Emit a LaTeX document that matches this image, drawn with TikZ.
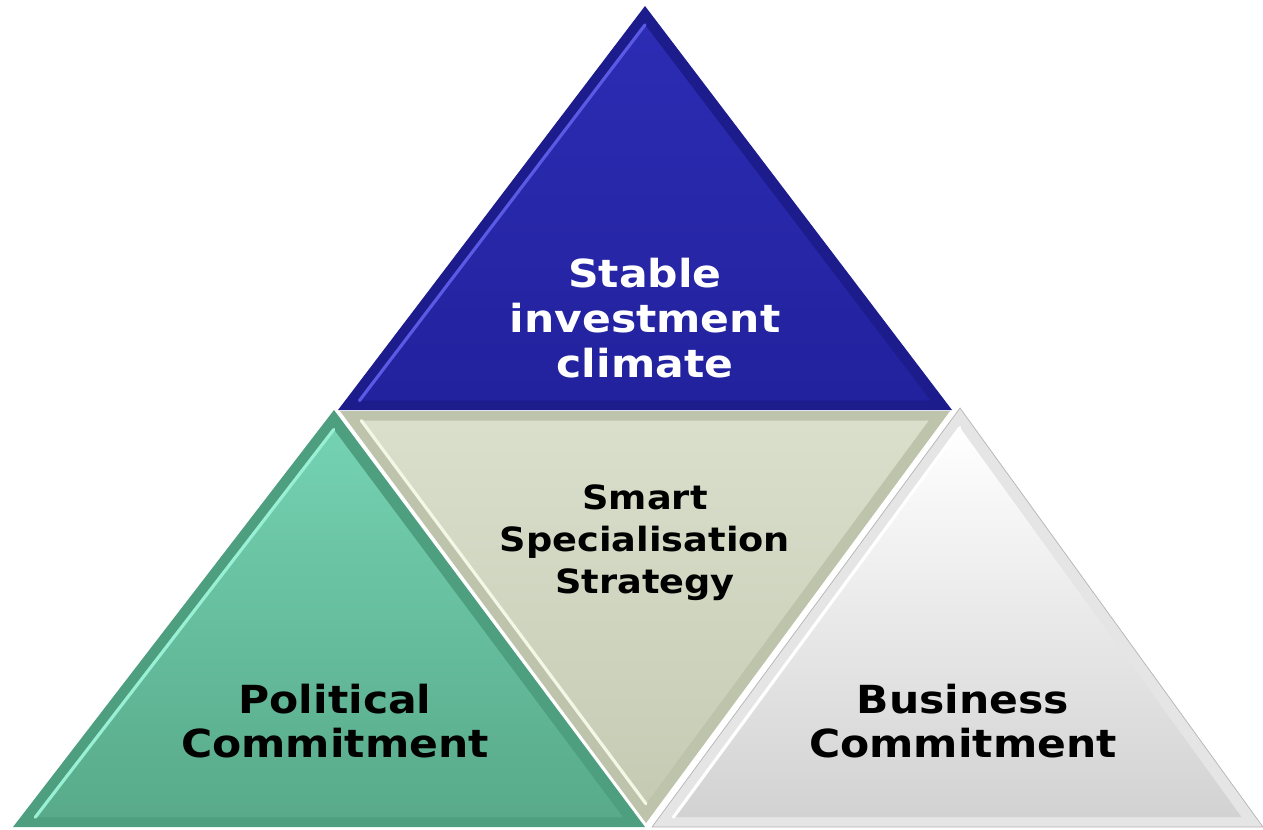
\documentclass[tikz,border=0pt]{standalone}
\usepackage{fontspec}
\setmainfont[FakeStretch=1.1]{DejaVu Sans}
\usetikzlibrary{calc}
\definecolor{blueedge}{HTML}{1C1C8C}
\definecolor{bluetop}{HTML}{2C2CB4}
\definecolor{bluebot}{HTML}{22229E}
\definecolor{bluehi}{HTML}{5A5AE4}
\definecolor{greenedge}{HTML}{4E9E80}
\definecolor{greentop}{HTML}{74D2B2}
\definecolor{greenbot}{HTML}{58AA8A}
\definecolor{greenhi}{HTML}{9AF0D4}
\definecolor{sageedge}{HTML}{BEC4AB}
\definecolor{sagetop}{HTML}{DADFCC}
\definecolor{sagebot}{HTML}{C5CBB3}
\definecolor{sagehi}{HTML}{F4F7E6}
\definecolor{greyedge}{HTML}{B4B4B4}
\definecolor{greybot}{HTML}{D2D2D2}
\tikzset{
  label text/.style={font=\bfseries\fontsize{22}{25.5}\selectfont, align=center, inner sep=0pt},
  small text/.style={font=\bfseries\fontsize{19}{24}\selectfont, align=center, inner sep=0pt}
}
\begin{document}
\begin{tikzpicture}[x=0.02cm,y=-0.02cm]
\useasboundingbox (0,0) rectangle (1263,829);

% corners of the four triangles
\coordinate (s1) at (645,6);   \coordinate (s2) at (338,410); \coordinate (s3) at (952,410);
\coordinate (m1) at (340,411); \coordinate (m2) at (950,411); \coordinate (m3) at (646,823);
\coordinate (p1) at (334,410); \coordinate (p2) at (13,827);  \coordinate (p3) at (645,827);
\coordinate (b1) at (960,408); \coordinate (b2) at (652,827); \coordinate (b3) at (1263,827);

% stable investment climate
\coordinate (sc) at (645,275);
\fill[blueedge] (s1) -- (s2) -- (s3) -- cycle;
\shade[top color=bluetop, bottom color=bluebot]
  ($(sc)!0.93!(s1)$) -- ($(sc)!0.93!(s2)$) -- ($(sc)!0.93!(s3)$) -- cycle;
\draw[bluehi, line width=1.8pt, line cap=round] ($(sc)!0.93!(s1)$) -- ($(sc)!0.93!(s2)$);

% political commitment
\coordinate (pc) at (331,688);
\fill[greenedge] (p1) -- (p2) -- (p3) -- cycle;
\shade[top color=greentop, bottom color=greenbot]
  ($(pc)!0.93!(p1)$) -- ($(pc)!0.93!(p2)$) -- ($(pc)!0.93!(p3)$) -- cycle;
\draw[greenhi, line width=1.8pt, line cap=round] ($(pc)!0.93!(p1)$) -- ($(pc)!0.93!(p2)$);

% smart specialisation strategy
\coordinate (mc) at (645,548);
\fill[sageedge] (m1) -- (m2) -- (m3) -- cycle;
\shade[top color=sagetop, bottom color=sagebot]
  ($(mc)!0.93!(m1)$) -- ($(mc)!0.93!(m2)$) -- ($(mc)!0.93!(m3)$) -- cycle;
\draw[sagehi, line width=1.8pt, line cap=round] ($(mc)!0.93!(m1)$) -- ($(mc)!0.93!(m3)$);

% business commitment
\coordinate (bc) at (958,687);
\fill[greyedge!35] (b1) -- (b2) -- (b3) -- cycle;
\shade[top color=white, bottom color=greybot]
  ($(bc)!0.93!(b1)$) -- ($(bc)!0.93!(b2)$) -- ($(bc)!0.93!(b3)$) -- cycle;
\draw[white, line width=1.8pt, line cap=round] ($(bc)!0.93!(b1)$) -- ($(bc)!0.93!(b2)$);
\draw[greyedge, line width=0.4pt] (b1) -- (b2) -- (b3) -- cycle;

\begin{scope}[every node/.style={label text}]
  \node[text=white] (stable)   at (645,318) {Stable\\investment\\climate};
  \node             (political) at (335,721) {Political\\Commitment};
  \node             (business)  at (963,721) {Business\\Commitment};
  \node[small text] (smart)    at (645,543) {Smart\\Specialisation\\Strategy};
\end{scope}

\end{tikzpicture}
\end{document}
